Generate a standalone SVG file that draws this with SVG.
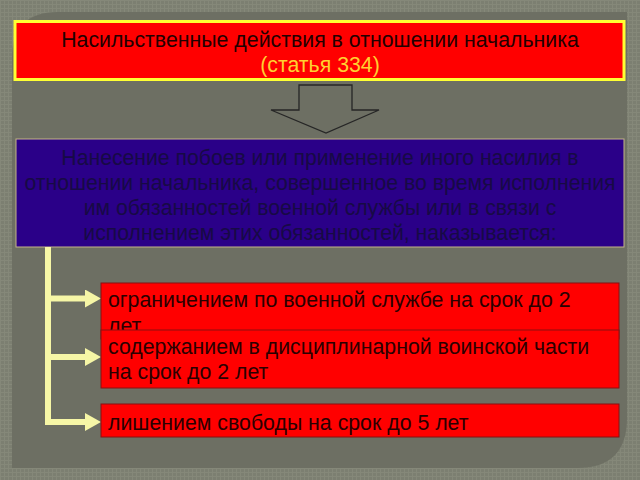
<svg xmlns="http://www.w3.org/2000/svg" width="640" height="480" viewBox="0 0 640 480">
  <defs>
    <pattern id="tex" width="4" height="4" patternUnits="userSpaceOnUse">
      <rect width="4" height="4" fill="#7c7f71"/>
      <path d="M0,0.5 H4 M0.5,0 V4" stroke="#858879" stroke-width="1"/>
    </pattern>
    <marker id="ah" markerUnits="userSpaceOnUse" markerWidth="16" markerHeight="18" refX="0" refY="9" orient="auto" viewBox="0 0 16 18">
      <polygon points="0,0 16,9 0,18" fill="#f6f6a6"/>
    </marker>
    <style>
      .t { font-family: "Liberation Sans", Arial, sans-serif; }
      .item { fill: #ff0000; stroke: #8a1010; stroke-width: 1; }
      .itxt { font-family: "Liberation Sans", Arial, sans-serif; font-size: 21.3px; fill: #2a0000; }
      .conn { fill: none; stroke: #f6f6a6; stroke-width: 6; stroke-linejoin: miter; }
    </style>
  </defs>

  <rect width="640" height="480" fill="url(#tex)"/>
  <path d="M12,58 Q12,12 58,12 H627 V418 Q627,468 577,468 H12 Z" fill="#6d6f63"/>

  <g id="title">
    <rect x="15" y="21.5" width="609" height="58" fill="#ff0000" stroke="#ffff33" stroke-width="3"/>
    <text class="t" x="320" y="47" text-anchor="middle" font-size="21.3" fill="#220000">Насильственные действия в отношении начальника</text>
    <text class="t" x="320" y="72" text-anchor="middle" font-size="21.3" fill="#ffd030">(статья 334)</text>
  </g>

  <g id="arrow">
    <polygon points="299,85 352,85 352,110 379,110 326,133 271,110 299,110" fill="none" stroke="#262626" stroke-width="1.3"/>
  </g>

  <g id="definition">
    <rect x="16" y="139" width="608" height="108" fill="#2a0088" stroke="#c4b488" stroke-width="1"/>
    <g class="t" font-size="21.2" fill="#170a45" text-anchor="middle">
      <text x="320" y="165">Нанесение побоев или применение иного насилия в</text>
      <text x="320" y="190">отношении начальника, совершенное во время исполнения</text>
      <text x="320" y="215">им обязанностей военной службы или в связи с</text>
      <text x="320" y="240">исполнением этих обязанностей, наказывается:</text>
    </g>
  </g>

  <g id="connectors">
    <path class="conn" d="M48,247 V422 H85" marker-end="url(#ah)"/>
    <path class="conn" d="M48,298.5 H85" marker-end="url(#ah)"/>
    <path class="conn" d="M48,357 H85" marker-end="url(#ah)"/>
  </g>

  <g id="item1">
    <rect class="item" x="101" y="283" width="518" height="56"/>
    <text class="itxt" x="108" y="307">ограничением по военной службе на срок до 2</text>
    <text class="itxt" x="108" y="333">лет</text>
  </g>

  <g id="item2">
    <rect class="item" x="101" y="330" width="518" height="58"/>
    <text class="itxt" x="108" y="354">содержанием в дисциплинарной воинской части</text>
    <text class="itxt" x="108" y="379">на срок до 2 лет</text>
  </g>

  <g id="item3">
    <rect class="item" x="101" y="404" width="518" height="33"/>
    <text class="itxt" x="108" y="430">лишением свободы на срок до 5 лет</text>
  </g>
</svg>
